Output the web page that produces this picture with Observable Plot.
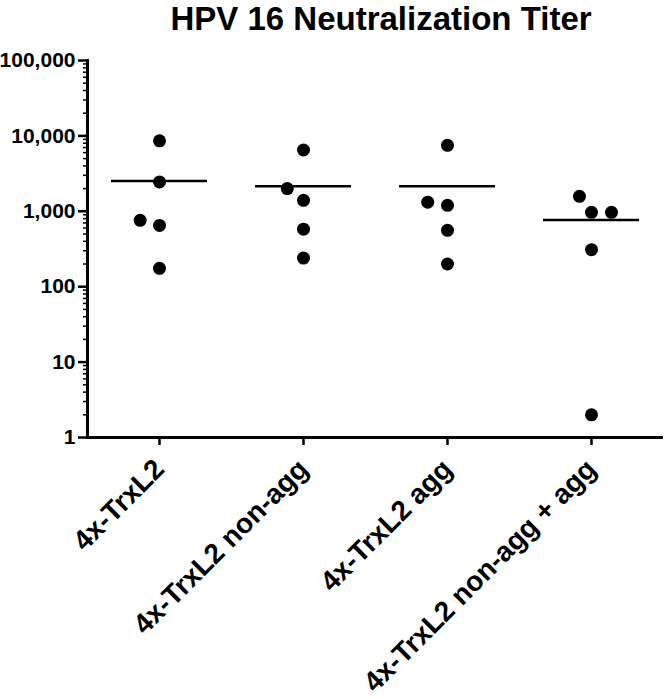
<!DOCTYPE html>
<html>
<head>
<meta charset="utf-8">
<script src="https://cdn.jsdelivr.net/npm/d3@7"></script>
<script src="https://cdn.jsdelivr.net/npm/@observablehq/plot@0.6"></script>
<style>
  body { margin: 0; background: #fff; }
  #title {
    font-family: "Liberation Sans", Arial, Helvetica, sans-serif;
    font-weight: bold;
    font-size: 33px;
    line-height: 33px;
    height: 44px;
    padding-top: 2px;
    padding-left: 96px;
    box-sizing: border-box;
    width: 666px;
    text-align: center;
    color: #000;
  }
</style>
</head>
<body>
<div id="title">HPV 16 Neutralization Titer</div>
<div id="chart"></div>
<script>
// Categories
const groups = ["4x-TrxL2", "4x-TrxL2 non-agg", "4x-TrxL2 agg", "4x-TrxL2 non-agg + agg"];

// Titers per group
const trxL2 = [8600, 2450, 650, 760, 175];
const trxL2NonAgg = [6500, 1400, 2000, 580, 240];
const trxL2Agg = [7500, 1200, 1320, 560, 200];
const trxL2NonAggPlusAgg = [970, 1580, 970, 310, 2];

// Axis tick values
const majorTicks = [1, 10, 100, 1000, 10000, 100000];
const minorMultipliers = [2, 3, 4, 5, 6, 7, 8, 9];

const series = [trxL2, trxL2NonAgg, trxL2Agg, trxL2NonAggPlusAgg];
const data = groups.flatMap((g, i) => series[i].map(v => ({group: g, value: v})));
const minorTicks = majorTicks.slice(0, -1).flatMap(p => minorMultipliers.map(m => m * p));

const chart = Plot.plot({
  width: 666,
  height: 655,
  marginTop: 16,
  marginBottom: 262,
  marginLeft: 86,
  marginRight: 2,
  style: {
    fontFamily: '"Liberation Sans", Arial, Helvetica, sans-serif',
    fontWeight: "bold",
    color: "#000",
    background: "#fff",
    overflow: "visible"
  },
  fx: {domain: groups, padding: 0, label: null},
  y: {type: "log", domain: [1, 100000], label: null},
  marks: [
    Plot.frame({anchor: "left", facetAnchor: "left", strokeWidth: 3}),
    Plot.ruleY([1], {strokeWidth: 3}),
    Plot.axisY({ticks: minorTicks, tickSize: 4, tickFormat: () => "", strokeWidth: 1.5, label: null}),
    Plot.axisY({ticks: majorTicks, tickSize: 9, tickPadding: 3, tickFormat: ",", fontSize: 21, strokeWidth: 2.5, label: null}),
    Plot.axisFx({anchor: "bottom", tickSize: 8, tickPadding: 19, tickRotate: -45, fontSize: 28, strokeWidth: 2.5, label: null}),
    Plot.tickY(data, Plot.groupZ({y: "mean"}, {fx: "group", y: "value", strokeWidth: 2.5, insetLeft: 24, insetRight: 24})),
    Plot.dot(data, Plot.dodgeX({anchor: "middle", padding: 7}, {fx: "group", y: "value", r: 6.5, fill: "#000"}))
  ]
});
document.getElementById("chart").appendChild(chart);
</script>
</body>
</html>
